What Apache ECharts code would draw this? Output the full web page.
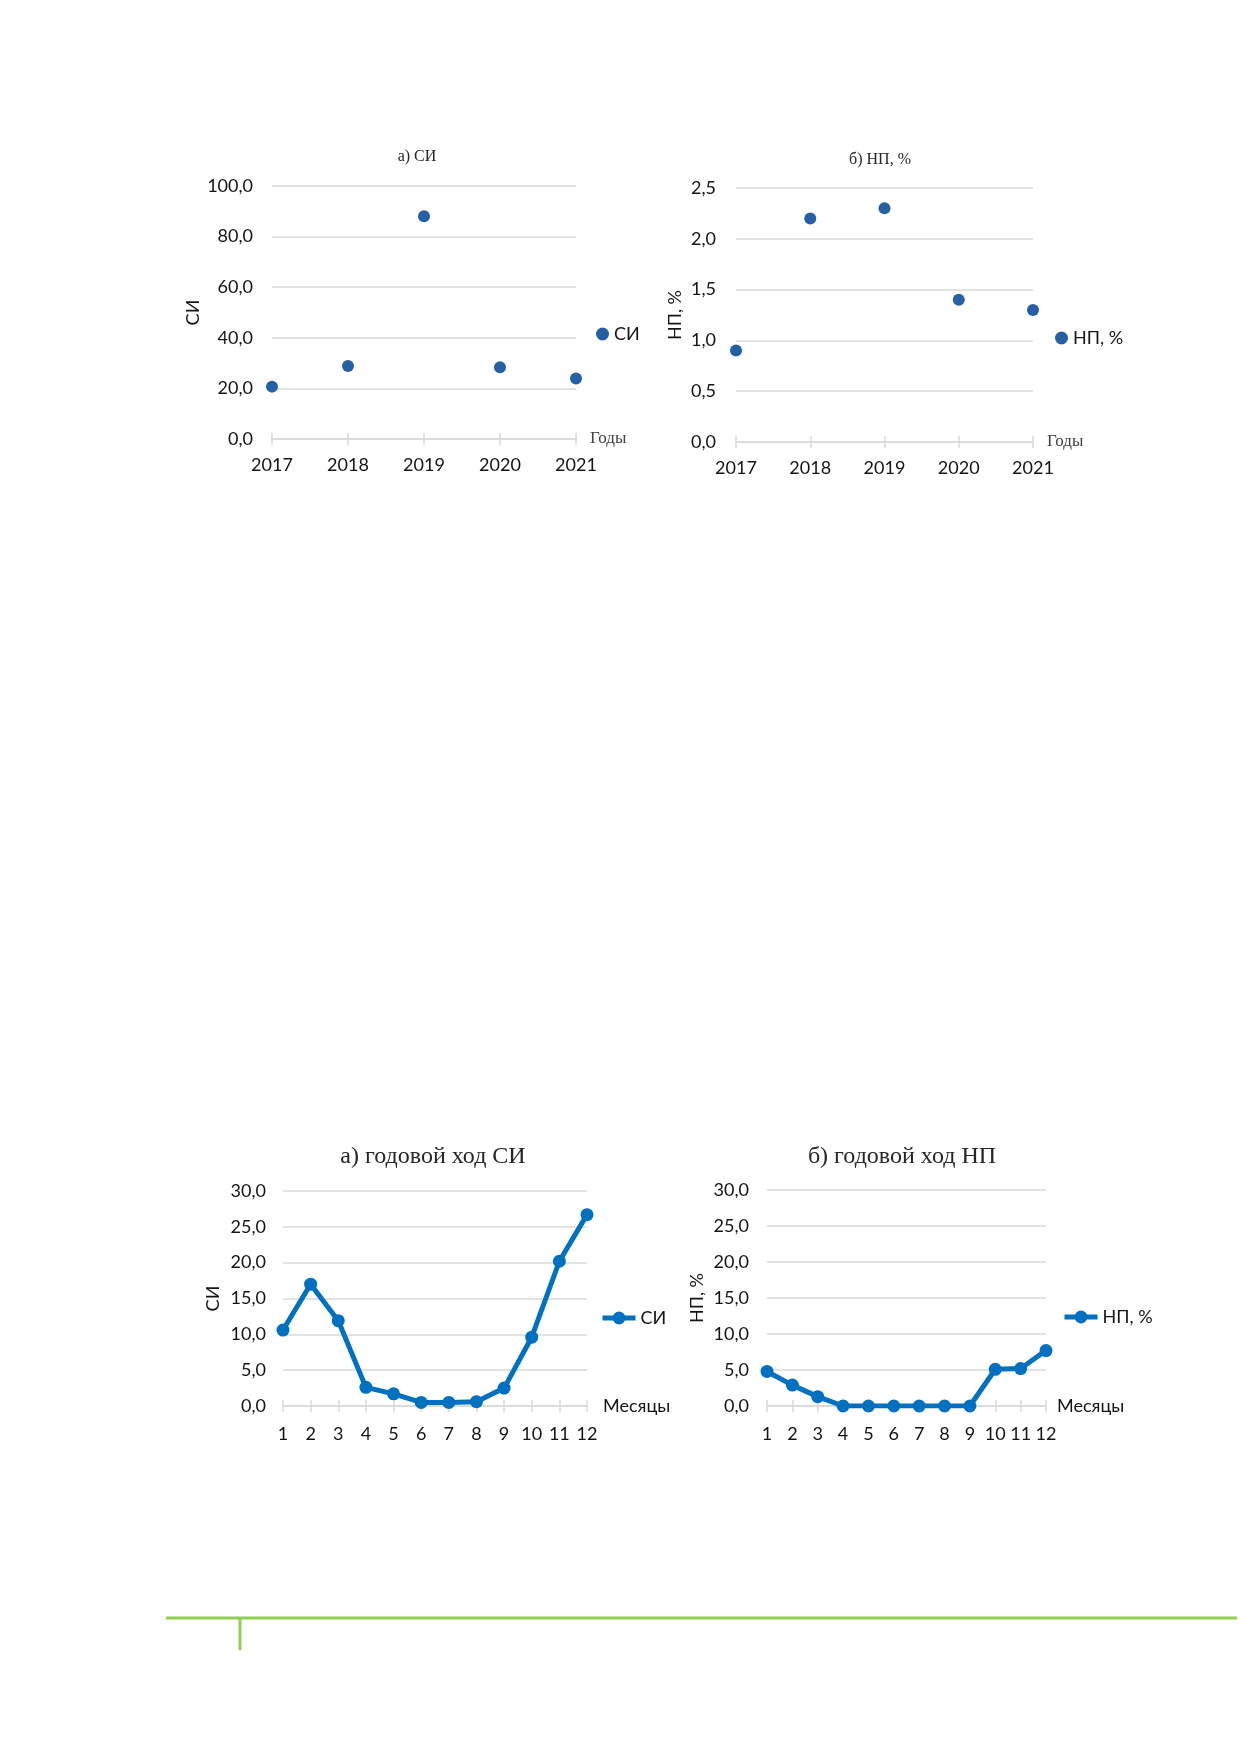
<!DOCTYPE html>
<html>
<head>
<meta charset="utf-8">
<script src="https://cdn.jsdelivr.net/npm/echarts@6/dist/echarts.min.js"></script>
<style>
html, body { margin: 0; padding: 0; background: #fff; }
#main { width: 1240px; height: 1754px; }
</style>
</head>
<body>
<div id="main"></div>
<script>
// годы и месяцы
var years = ['2017', '2018', '2019', '2020', '2021'];
var months = ['1', '2', '3', '4', '5', '6', '7', '8', '9', '10', '11', '12'];

// а) СИ и б) НП, % по годам
var siYears = [20.7, 28.9, 88.0, 28.4, 23.9];
var npYears = [0.9, 2.2, 2.3, 1.4, 1.3];

// годовой ход
var siMonths = [10.6, 17.0, 11.9, 2.6, 1.7, 0.5, 0.5, 0.6, 2.5, 9.6, 20.2, 26.7];
var npMonths = [4.8, 2.9, 1.3, 0, 0, 0, 0, 0, 0, 5.1, 5.2, 7.7];

var SANS = 'Lato';
var SERIF = 'Liberation Serif';
var GRIDC = '#D9D9D9';
var TXT = '#141414';

var comma = function(v) {
	return v.toFixed(1).replace('.', ',');
};

//x ось с рисками по обе стороны
function xAxes(gridIndex, data, name, nameGap, margin) {
	return [
		{
			type: 'category',
			gridIndex: gridIndex,
			position: 'bottom',
			boundaryGap: false,
			data: data,
			name: name,
			nameLocation: 'end',
			nameGap: nameGap,
			nameTextStyle: name == 'Годы' ?
				{fontFamily: SERIF, fontSize: 17, color: '#404040', verticalAlign: 'middle'} :
				{fontFamily: SANS, fontSize: 18, color: TXT, verticalAlign: 'middle'},
			axisLine: {show: true, lineStyle: {color: GRIDC, width: 1.5}},
			axisTick: {show: true, interval: 0, length: 6, lineStyle: {color: GRIDC, width: 1.5}},
			axisLabel: {fontFamily: SANS, fontSize: 18, color: TXT, margin: margin, interval: 0},
			splitLine: {show: false}
		},
		{
			type: 'category',
			gridIndex: gridIndex,
			position: 'bottom',
			boundaryGap: false,
			data: data,
			axisLine: {show: false},
			axisTick: {show: true, interval: 0, inside: true, length: 6, lineStyle: {color: GRIDC, width: 1.5}},
			axisLabel: {show: false},
			splitLine: {show: false}
		}
	];
}

function yAxis(gridIndex, max, interval, name, nameGap, margin) {
	return {
		type: 'value',
		gridIndex: gridIndex,
		min: 0,
		max: max,
		interval: interval,
		name: name,
		nameLocation: 'middle',
		nameRotate: 90,
		nameGap: nameGap,
		nameTextStyle: {fontFamily: SANS, fontSize: 18, color: TXT},
		axisLine: {show: false},
		axisTick: {show: false},
		axisLabel: {fontFamily: SANS, fontSize: 18, color: TXT, margin: margin, formatter: comma},
		splitLine: {show: true, lineStyle: {color: GRIDC, width: 1.5}}
	};
}

function titleText(x, y, text, size) {
	return {
		type: 'text',
		x: x,
		y: y,
		style: {
			text: text,
			fontFamily: SERIF,
			fontSize: size,
			fill: '#262626',
			textAlign: 'center',
			textVerticalAlign: 'middle'
		}
	};
}

var xs = [].concat(
	xAxes(0, years, 'Годы', 14, 17),
	xAxes(1, years, 'Годы', 14, 17),
	xAxes(2, months, 'Месяцы', 16, 19),
	xAxes(3, months, 'Месяцы', 11, 19)
);

var myChart = echarts.init(document.getElementById('main'), null, {renderer: 'canvas'});
myChart.setOption({
	backgroundColor: '#ffffff',
	animation: false,
	grid: [
		{left: 272, top: 186, width: 304, height: 253},
		{left: 736, top: 188, width: 297, height: 254},
		{left: 283, top: 1191, width: 304, height: 215},
		{left: 767, top: 1190, width: 279, height: 216}
	],
	xAxis: xs,
	yAxis: [
		yAxis(0, 100, 20, 'СИ', 70, 19),
		yAxis(1, 2.5, 0.5, 'НП, %', 52, 20),
		yAxis(2, 30, 5, 'СИ', 61, 17),
		yAxis(3, 30, 5, 'НП, %', 61, 18)
	],
	legend: [
		{
			data: ['СИ'], left: 591, top: 320, orient: 'vertical',
			itemWidth: 13, itemHeight: 13, icon: 'circle',
			textStyle: {fontFamily: SANS, fontSize: 18, color: TXT}
		},
		{
			data: ['НП, %'], left: 1050, top: 324, orient: 'vertical',
			itemWidth: 13, itemHeight: 13, icon: 'circle',
			textStyle: {fontFamily: SANS, fontSize: 18, color: TXT}
		},
		{
			data: ['СИ '], left: 595, top: 1304, orient: 'vertical',
			itemWidth: 33, itemHeight: 16,
			lineStyle: {width: 5},
			textStyle: {fontFamily: SANS, fontSize: 18, color: TXT},
			formatter: function(n) { return n.trim(); }
		},
		{
			data: ['НП, % '], left: 1057, top: 1303, orient: 'vertical',
			itemWidth: 33, itemHeight: 16,
			lineStyle: {width: 5},
			textStyle: {fontFamily: SANS, fontSize: 18, color: TXT},
			formatter: function(n) { return n.trim(); }
		}
	],
	series: [
		{
			name: 'СИ',
			type: 'scatter',
			xAxisIndex: 0,
			yAxisIndex: 0,
			symbolSize: 12,
			itemStyle: {color: '#2660A4', opacity: 1},
			data: siYears
		},
		{
			name: 'НП, %',
			type: 'scatter',
			xAxisIndex: 2,
			yAxisIndex: 1,
			symbolSize: 12,
			itemStyle: {color: '#2660A4', opacity: 1},
			data: npYears
		},
		{
			name: 'СИ ',
			type: 'line',
			xAxisIndex: 4,
			yAxisIndex: 2,
			symbol: 'circle',
			symbolSize: 13,
			lineStyle: {color: '#0070C0', width: 5},
			itemStyle: {color: '#0070C0'},
			data: siMonths
		},
		{
			name: 'НП, % ',
			type: 'line',
			xAxisIndex: 6,
			yAxisIndex: 3,
			symbol: 'circle',
			symbolSize: 13,
			lineStyle: {color: '#0070C0', width: 5},
			itemStyle: {color: '#0070C0'},
			data: npMonths
		}
	],
	graphic: [
		titleText(417, 157, 'а) СИ', 16),
		titleText(880, 160, 'б) НП, %', 16),
		titleText(433, 1157, 'а) годовой ход СИ', 24),
		titleText(902, 1157, 'б) годовой ход НП', 24),
		//зелёная линия внизу страницы
		{
			type: 'line',
			shape: {x1: 166, y1: 1618, x2: 1237, y2: 1618},
			style: {stroke: '#92D050', lineWidth: 3}
		},
		{
			type: 'line',
			shape: {x1: 240, y1: 1618, x2: 240, y2: 1650},
			style: {stroke: '#92D050', lineWidth: 3}
		}
	]
});
</script>
</body>
</html>
